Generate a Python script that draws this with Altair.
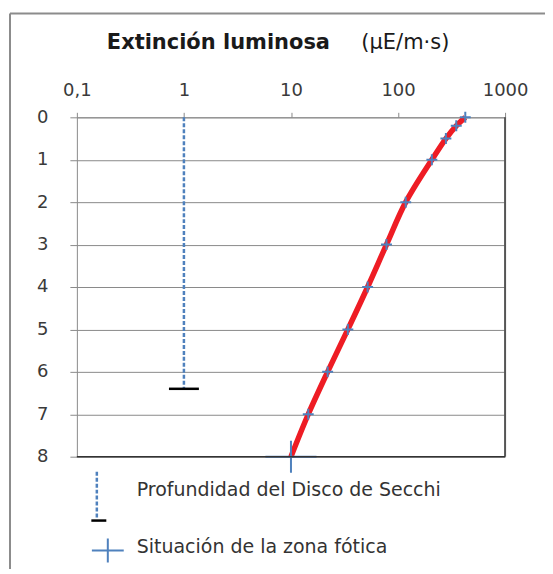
import altair as alt
import pandas as pd

# ---- data ----
depth = [0, 0.2, 0.5, 1, 2, 3, 4, 5, 6, 7, 8]
light = [425, 350, 280, 207, 118, 78, 52, 34, 22, 14.5, 10]
x_ticks = [0.1, 1, 10, 100, 1000]
y_ticks = [0, 1, 2, 3, 4, 5, 6, 7, 8]
secchi_x = [1, 1]
secchi_depth = [0, 6.4]
photic_x = [10]
photic_depth = [8]
title_main = "Extinción luminosa"
title_unit = "(µE/m·s)"
legend_labels = ["Profundidad del Disco de Secchi", "Situación de la zona fótica"]

W, H = 429, 340
BLUE = "#4f81bd"
RED = "#ee1c24"
GRID = "#8a8a8a"
FONT = "DejaVu Sans"

PLUS = "M-1,0L1,0M0,-1L0,1"
PLUS_BIG = "M-1.6,0L1.6,0M0,-1L0,1"
PLUS_LEG = "M-1.33,0L1.33,0M0,-1L0,1"
HBAR = "M-1,0L1,0"

df = pd.DataFrame({"depth": depth, "light": light})
df_small = df[df["depth"] < 8]
df_secchi = pd.DataFrame({"light": secchi_x, "depth": secchi_depth})
df_cap = pd.DataFrame({"light": [secchi_x[-1]], "depth": [secchi_depth[-1]]})
df_photic = pd.DataFrame({"light": photic_x, "depth": photic_depth})
one = pd.DataFrame({"a": [0]})

xs = alt.Scale(type="log", domain=[0.1, 1000])
ys = alt.Scale(domain=[0, 8], reverse=True)

xaxis = alt.Axis(
    orient="top", values=x_ticks, title=None, grid=False,
    labelExpr="datum.value < 0.5 ? '0,1' : format(datum.value, 'd')",
    tickSize=5, tickColor=GRID, domainColor=GRID,
    labelFontSize=18, labelFont=FONT, labelColor="#3a3a3a", labelPadding=13,
    labelFlush=False,
)
yaxis = alt.Axis(
    values=y_ticks, title=None, grid=True, gridColor=GRID, gridWidth=1,
    tickSize=7, tickColor=GRID, domainColor=GRID, format="d",
    labelFontSize=18, labelFont=FONT, labelColor="#3a3a3a", labelPadding=22,
)

X = alt.X("light:Q", scale=xs, axis=xaxis)
Y = alt.Y("depth:Q", scale=ys, axis=yaxis)

line = alt.Chart(df).mark_line(color=RED, strokeWidth=5.5, interpolate="catmull-rom").encode(
    x=X, y=Y, order="depth:Q")

pts = alt.Chart(df_small).mark_point(shape=PLUS, size=120, color=BLUE, strokeWidth=2,
                                     filled=False, opacity=1).encode(x="light:Q", y="depth:Q")

secchi = alt.Chart(df_secchi).mark_line(color=BLUE, strokeWidth=2.5, strokeDash=[4, 2]).encode(
    x="light:Q", y="depth:Q", order="depth:Q")

cap = alt.Chart(df_cap).mark_point(shape=HBAR, size=900, color="black", strokeWidth=2.5,
                                   filled=False, opacity=1).encode(x="light:Q", y="depth:Q")

photic = alt.Chart(df_photic).mark_point(shape=PLUS_BIG, size=1024, color=BLUE, strokeWidth=2,
                                         filled=False, opacity=1).encode(x="light:Q", y="depth:Q")

# borders
right_border = alt.Chart(one).mark_rule(color="#555555", strokeWidth=2).encode(
    x=alt.value(W), y=alt.value(0), y2=alt.value(H))
bottom_border = alt.Chart(one).mark_rule(color="#333333", strokeWidth=1.5).encode(
    x=alt.value(0), x2=alt.value(W), y=alt.value(H))
frame_top = alt.Chart(one).mark_rule(color="#8c8c8c", strokeWidth=2).encode(
    x=alt.value(-67), x2=alt.value(480), y=alt.value(-104))
frame_left = alt.Chart(one).mark_rule(color="#8c8c8c", strokeWidth=2).encode(
    x=alt.value(-67), y=alt.value(-104), y2=alt.value(470))

# title
t_main = alt.Chart(one).mark_text(text=title_main, font=FONT, fontSize=21, fontWeight="bold",
                                  align="left", baseline="middle", color="#1a1a1a").encode(
    x=alt.value(30), y=alt.value(-74))
t_unit = alt.Chart(one).mark_text(text=title_unit, font=FONT, fontSize=21,
                                  align="left", baseline="middle", color="#1a1a1a").encode(
    x=alt.value(285), y=alt.value(-74))

# legend
leg_dash = alt.Chart(one).mark_rule(color=BLUE, strokeWidth=2.5, strokeDash=[4, 2]).encode(
    x=alt.value(20), y=alt.value(355), y2=alt.value(401))
leg_cap = alt.Chart(one).mark_point(shape=HBAR, size=225, color="black", strokeWidth=2.5,
                                    filled=False, opacity=1).encode(x=alt.value(22), y=alt.value(404))
leg_plus = alt.Chart(one).mark_point(shape=PLUS_LEG, size=576, color=BLUE, strokeWidth=2,
                                     filled=False, opacity=1).encode(x=alt.value(31), y=alt.value(434))
leg_t1 = alt.Chart(one).mark_text(text=legend_labels[0], font=FONT, fontSize=19,
                                  align="left", baseline="middle", color="#333333").encode(
    x=alt.value(60), y=alt.value(373))
leg_t2 = alt.Chart(one).mark_text(text=legend_labels[1], font=FONT, fontSize=19,
                                  align="left", baseline="middle", color="#333333").encode(
    x=alt.value(60), y=alt.value(430))

chart = alt.layer(
    line, secchi, cap, pts, photic, right_border, bottom_border, frame_top, frame_left,
    t_main, t_unit, leg_dash, leg_cap, leg_plus, leg_t1, leg_t2,
).properties(
    width=W, height=H,
    autosize=alt.AutoSizeParams(type="none"),
    padding={"left": 69, "top": 109, "right": 40, "bottom": 112},
).configure_view(stroke=None)

chart.save("out.html", embed_options={"renderer": "svg", "actions": False})
